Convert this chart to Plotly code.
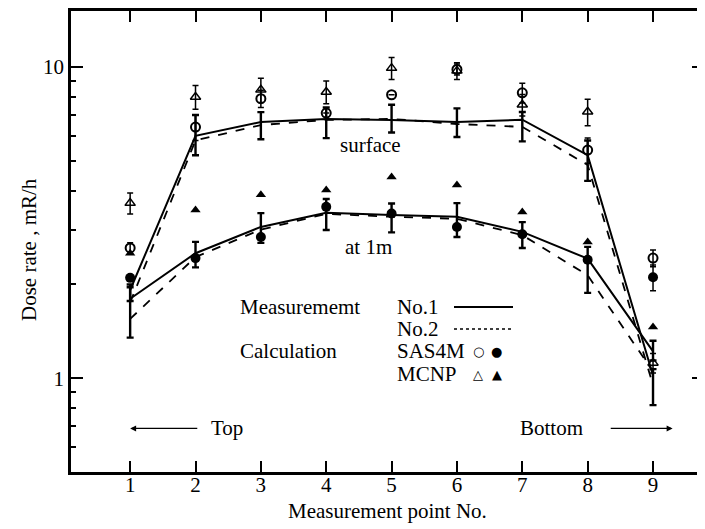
import plotly.graph_objects as go
import math

# ---------------- data ----------------
points = [1, 2, 3, 4, 5, 6, 7, 8, 9]
tick_labels = ["1", "2", "3", "4", "5", "6", "7", "8", "9"]

# Measurement, surface
surf_no1 = [1.92, 6.0, 6.65, 6.8, 6.75, 6.65, 6.76, 5.2, 1.02]
surf_no2 = [1.75, 5.8, 6.5, 6.75, 6.8, 6.55, 6.41, 4.84, 0.95]
surf_err_plus = [0.08, 1.0, 0.5, 0.6, 0.8, 0.7, 0.4, 0.6, 0.05]
surf_err_minus = [0.15, 0.8, 0.8, 0.9, 0.6, 0.7, 1.0, 0.9, 0.2]

# Measurement, at 1 m
m1_no1 = [1.8, 2.52, 3.06, 3.4, 3.34, 3.3, 2.95, 2.42, 1.22]
m1_no2 = [1.55, 2.45, 3.0, 3.37, 3.3, 3.25, 2.88, 2.14, 1.05]
m1_err_plus = [0.16, 0.22, 0.33, 0.36, 0.3, 0.35, 0.22, 0.22, 0.1]
m1_err_minus = [0.45, 0.25, 0.34, 0.41, 0.4, 0.46, 0.33, 0.54, 0.08]

# Calculation
sas_surf = [2.62, 6.4, 7.9, 7.1, 8.13, 9.8, 8.25, 5.4, 2.43]
sas_surf_err = [0.1, 0.6, 0.5, 0.0, 0.0, 0.4, 0.6, 0.5, 0.15]
sas_1m = [2.1, 2.43, 2.84, 3.55, 3.38, 3.06, 2.9, 2.4, 2.11]
sas_1m_err = [0.0, 0.0, 0.0, 0.0, 0.0, 0.0, 0.0, 0.0, 0.2]
mcnp_surf = [3.65, 8.0, 8.43, 8.3, 9.9, 9.7, 7.55, 7.17, 1.12]
mcnp_surf_err = [0.28, 0.7, 0.75, 0.7, 0.8, 0.6, 0.6, 0.7, 0.08]
mcnp_1m = [2.52, 3.47, 3.88, 4.02, 4.43, 4.17, 3.42, 2.74, 1.46]

y_major = [1, 10]
y_major_labels = ["1", "10"]
y_minor = [0.6, 0.7, 0.8, 0.9, 2, 3, 4, 5, 6, 7, 8, 9]

FONT = "Liberation Serif"
BLACK = "black"
FS = 21

fig = go.Figure()

def err(plus, minus=None):
    d = dict(type="data", array=plus, color=BLACK, thickness=2.4, width=3.5, visible=True)
    if minus is not None:
        d["symmetric"] = False
        d["arrayminus"] = minus
    return d

# measurement lines
fig.add_trace(go.Scatter(x=points, y=surf_no2, mode="lines",
                         line=dict(color=BLACK, width=1.8, dash="dash")))
fig.add_trace(go.Scatter(x=points, y=surf_no1, mode="lines",
                         line=dict(color=BLACK, width=2),
                         error_y=err(surf_err_plus, surf_err_minus)))
fig.add_trace(go.Scatter(x=points, y=m1_no2, mode="lines",
                         line=dict(color=BLACK, width=1.8, dash="dash")))
fig.add_trace(go.Scatter(x=points, y=m1_no1, mode="lines",
                         line=dict(color=BLACK, width=2),
                         error_y=err(m1_err_plus, m1_err_minus)))

# calculations
fig.add_trace(go.Scatter(x=points, y=sas_surf, mode="markers",
                         marker=dict(symbol="circle-open", size=9, color=BLACK, line=dict(width=2)),
                         error_y=dict(type="data", array=sas_surf_err, color=BLACK, thickness=1.5, width=3)))
fig.add_trace(go.Scatter(x=points, y=sas_1m, mode="markers",
                         marker=dict(symbol="circle", size=10, color=BLACK),
                         error_y=dict(type="data", array=sas_1m_err, color=BLACK, thickness=1.5, width=3)))
fig.add_trace(go.Scatter(x=points, y=mcnp_surf, mode="markers",
                         marker=dict(symbol="triangle-up-open", size=9, color=BLACK, line=dict(width=1.5)),
                         error_y=dict(type="data", array=mcnp_surf_err, color=BLACK, thickness=1.5, width=3)))
fig.add_trace(go.Scatter(x=points, y=mcnp_1m, mode="markers",
                         marker=dict(symbol="triangle-up", size=9, color=BLACK)))

# The page body has an 8 px margin, so the figure is drawn 8 px smaller and
# the plot area is placed so that in the page it spans x 71..704, y 11..472.
OFF = 8
W, H = 705 - OFF, 529 - OFF
L, R, T, B = 71 - OFF, 1, 11 - OFF, 57
PL, PR, PT, PB = 71, 704, 11, 472   # plot area in page pixels
pw, ph = PR - PL, PB - PT

def px(xp):
    return (xp - PL) / pw

def py(yp):
    return (PB - yp) / ph

ann = []
txt = dict(font=dict(family=FONT, size=FS, color=BLACK), showarrow=False, yanchor="middle")
ann.append(dict(x=4.68, y=math.log10(5.61), xref="x", yref="y", text="surface", **txt))
ann.append(dict(x=4.65, y=math.log10(2.64), xref="x", yref="y", text="at 1m", **txt))

# axis titles
ann.append(dict(x=0.5, y=py(511), xref="paper", yref="paper", text="Measurement point No.",
                xanchor="center", **txt))
ann.append(dict(x=px(29), y=py(250), xref="paper", yref="paper", text="Dose rate , mR/h",
                xanchor="center", textangle=-90, **txt))

# legend block
rows = [307, 329, 351, 374]
ann.append(dict(x=px(238), y=py(rows[0]), xref="paper", yref="paper", text="Measurememt",
                xanchor="left", **txt))
ann.append(dict(x=px(238), y=py(rows[2]), xref="paper", yref="paper", text="Calculation",
                xanchor="left", **txt))
for r, t in zip(rows, ["No.1", "No.2", "SAS4M", "MCNP"]):
    ann.append(dict(x=px(395), y=py(r), xref="paper", yref="paper", text=t, xanchor="left", **txt))
sym = dict(font=dict(family="DejaVu Sans", size=13, color=BLACK), showarrow=False,
           xanchor="center", yanchor="middle")
ann.append(dict(x=px(478), y=py(rows[2]), xref="paper", yref="paper", text="○", **sym))
ann.append(dict(x=px(497), y=py(rows[2]), xref="paper", yref="paper", text="●", **sym))
ann.append(dict(x=px(478), y=py(rows[3]), xref="paper", yref="paper", text="△", **sym))
ann.append(dict(x=px(497), y=py(rows[3]), xref="paper", yref="paper", text="▲", **sym))

# Top / Bottom arrows
arr_y = math.log10(0.69)
ann.append(dict(x=1.0, y=arr_y, ax=2.05, ay=arr_y, xref="x", yref="y", axref="x", ayref="y",
                text="", showarrow=True, arrowhead=2, arrowsize=1, arrowwidth=1.2, arrowcolor=BLACK))
ann.append(dict(x=2.2, y=arr_y, xref="x", yref="y", text="Top", xanchor="left", **txt))
ann.append(dict(x=9.3, y=arr_y, ax=8.33, ay=arr_y, xref="x", yref="y", axref="x", ayref="y",
                text="", showarrow=True, arrowhead=2, arrowsize=1, arrowwidth=1.2, arrowcolor=BLACK))
ann.append(dict(x=7.45, y=arr_y, xref="x", yref="y", text="Bottom", **txt))

shapes = [
    dict(type="line", xref="paper", yref="paper", x0=px(454), x1=px(513), y0=py(rows[0]), y1=py(rows[0]),
         line=dict(color=BLACK, width=2)),
    dict(type="line", xref="paper", yref="paper", x0=px(454), x1=px(513), y0=py(rows[1]), y1=py(rows[1]),
         line=dict(color=BLACK, width=1.5, dash="dot")),
]

fig.update_layout(
    width=W, height=H,
    margin=dict(l=L, r=R, t=T, b=B, autoexpand=False),
    paper_bgcolor="white", plot_bgcolor="white",
    showlegend=False,
    annotations=ann, shapes=shapes,
    font=dict(family=FONT, size=FS, color=BLACK),
)
fig.update_xaxes(
    range=[0.095, 9.78], tickvals=points, ticktext=tick_labels,
    ticks="inside", ticklen=11, tickwidth=2, tickcolor=BLACK,
    showline=True, linewidth=2.5, linecolor=BLACK, mirror="ticks",
    showgrid=False, zeroline=False, automargin=False,
    tickfont=dict(family=FONT, size=FS), ticklabelstandoff=-8,
)
fig.update_yaxes(
    type="log", range=[math.log10(0.5), math.log10(15.1)],
    tickvals=y_major, ticktext=y_major_labels,
    ticks="inside", ticklen=12, tickwidth=2, tickcolor=BLACK,
    minor=dict(tickvals=y_minor, ticks="inside", ticklen=5, tickwidth=2, tickcolor=BLACK),
    showline=True, linewidth=2.5, linecolor=BLACK, mirror="ticks",
    showgrid=False, zeroline=False, automargin=False,
    tickfont=dict(family=FONT, size=FS),
)

fig.write_html("out.html")
